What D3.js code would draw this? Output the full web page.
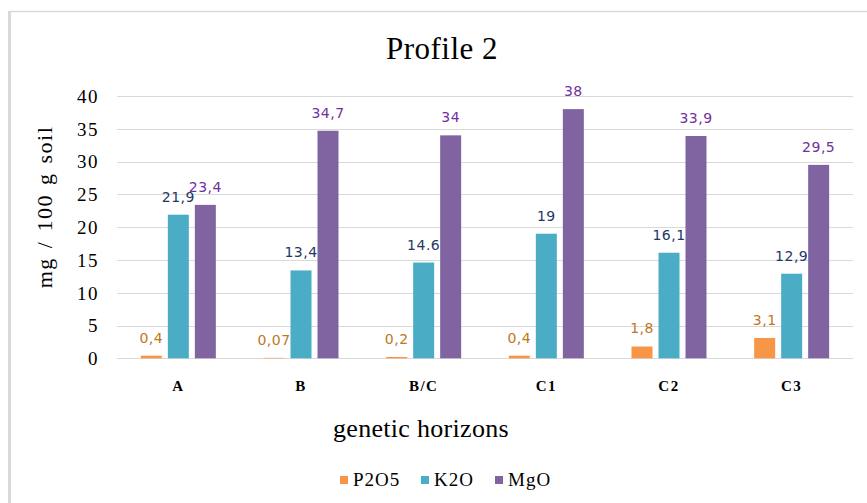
<!DOCTYPE html>
<html>
<head>
<meta charset="utf-8">
<script src="https://cdn.jsdelivr.net/npm/d3@7"></script>
<style>
  html, body { margin: 0; padding: 0; background: #fff; }
  svg { display: block; }
  .serif { font-family: "Liberation Serif", "Times New Roman", serif; }
  .vlabel { font-family: "DejaVu Sans", sans-serif; }
</style>
</head>
<body>
<svg id="chart" width="867" height="503"></svg>
<script>
// Horizons along the x axis
const categories = ["A", "B", "B/C", "C1", "C2", "C3"];
// Series names
const seriesNames = ["P2O5", "K2O", "MgO"];
// Values per series (mg / 100 g soil)
const p2o5 = [0.4, 0.07, 0.2, 0.4, 1.8, 3.1];
const k2o = [21.9, 13.4, 14.6, 19, 16.1, 12.9];
const mgo = [23.4, 34.7, 34, 38, 33.9, 29.5];
// Value labels as printed above each bar
const p2o5Labels = ["0,4", "0,07", "0,2", "0,4", "1,8", "3,1"];
const k2oLabels = ["21,9", "13,4", "14.6", "19", "16,1", "12,9"];
const mgoLabels = ["23,4", "34,7", "34", "38", "33,9", "29,5"];
// Y axis ticks
const yTicks = [0, 5, 10, 15, 20, 25, 30, 35, 40];

const seriesValues = [p2o5, k2o, mgo];
const seriesLabels = [p2o5Labels, k2oLabels, mgoLabels];
const barColors = ["#f79646", "#4bacc6", "#8064a2"];
const labelColors = ["#c0771f", "#1f3864", "#7030a0"];

const svg = d3.select("#chart");

// Outer frame (top and left edges)
svg.append("line").attr("x1", 9.5).attr("x2", 867).attr("y1", 11.5).attr("y2", 11.5)
  .attr("stroke", "#d9d9d9").attr("stroke-width", 1.5);
svg.append("line").attr("x1", 9.5).attr("x2", 9.5).attr("y1", 11).attr("y2", 503)
  .attr("stroke", "#d9d9d9").attr("stroke-width", 3);

const plot = { left: 117, right: 853, top: 96, bottom: 358.3 };

const x0 = d3.scaleBand().domain(categories).range([plot.left, plot.right]).padding(0);
const x1 = d3.scaleBand().domain(seriesNames).range([0, 75]).paddingInner(6 / 27).paddingOuter(0);
const y = d3.scaleLinear().domain([0, 40]).range([plot.bottom, plot.top]);

// Horizontal gridlines
svg.append("g").selectAll("line").data(yTicks).join("line")
  .attr("x1", plot.left).attr("x2", plot.right)
  .attr("y1", d => Math.round(y(d)) + 0.5).attr("y2", d => Math.round(y(d)) + 0.5)
  .attr("stroke", "#d9d9d9").attr("stroke-width", 1);

// Y axis tick labels
const yAxis = d3.axisLeft(y).tickValues(yTicks).tickSize(0).tickPadding(0);
const yg = svg.append("g").attr("transform", `translate(99,0)`).call(yAxis);
yg.select(".domain").remove();
yg.attr("font-family", null).attr("font-size", null);
yg.selectAll("text").attr("class", "serif").style("font-size", "19px")
  .attr("fill", "#000").attr("dy", "0.33em").attr("letter-spacing", 1.5);

// X axis category labels
const xAxis = d3.axisBottom(x0).tickSize(0).tickPadding(0);
const xg = svg.append("g").attr("transform", `translate(0,${plot.bottom})`).call(xAxis);
xg.select(".domain").remove();
xg.attr("font-family", null).attr("font-size", null);
xg.selectAll("text").attr("class", "serif").style("font-size", "15px")
  .style("font-weight", "bold").attr("fill", "#000").attr("dy", 0).attr("y", 33)
  .attr("letter-spacing", 1.5);

// Bars and value labels
const groups = svg.append("g").selectAll("g").data(categories).join("g")
  .attr("transform", d => `translate(${x0(d) + (x0.bandwidth() - 75) / 2},0)`);

seriesNames.forEach((s, si) => {
  groups.append("rect")
    .attr("x", x1(s))
    .attr("width", x1.bandwidth())
    .attr("y", (d, i) => y(seriesValues[si][i]))
    .attr("height", (d, i) => plot.bottom - y(seriesValues[si][i]))
    .attr("fill", barColors[si]);
  groups.append("text")
    .attr("class", "vlabel")
    .attr("x", x1(s) + x1.bandwidth() / 2)
    .attr("y", (d, i) => y(seriesValues[si][i]) - 13)
    .attr("text-anchor", "middle")
    .style("font-size", "14px")
    .attr("letter-spacing", 0.5)
    .attr("fill", labelColors[si])
    .text((d, i) => seriesLabels[si][i]);
});

// Title
svg.append("text").attr("class", "serif").attr("x", 442).attr("y", 59)
  .attr("text-anchor", "middle").style("font-size", "31px").attr("letter-spacing", 0.5)
  .attr("fill", "#000").text("Profile 2");

// Axis titles
svg.append("text").attr("class", "serif").attr("transform", "translate(52,207) rotate(-90)")
  .attr("text-anchor", "middle").style("font-size", "22px")
  .attr("letter-spacing", 1.5).attr("word-spacing", 2).attr("fill", "#000")
  .text("mg / 100 g soil");

svg.append("text").attr("class", "serif").attr("x", 421).attr("y", 437)
  .attr("text-anchor", "middle").style("font-size", "26px").attr("letter-spacing", 0.3)
  .attr("fill", "#000").text("genetic horizons");

// Legend
const legendX = [340, 421, 495];
const legend = svg.append("g").selectAll("g").data(seriesNames).join("g")
  .attr("transform", (d, i) => `translate(${legendX[i]},480)`);
legend.append("rect").attr("x", 0).attr("y", -4).attr("width", 8).attr("height", 8)
  .attr("fill", (d, i) => barColors[i]);
legend.append("text").attr("class", "serif").attr("x", 13).attr("y", 6)
  .style("font-size", "19px").attr("letter-spacing", 1).attr("fill", "#000").text(d => d);
</script>
</body>
</html>
